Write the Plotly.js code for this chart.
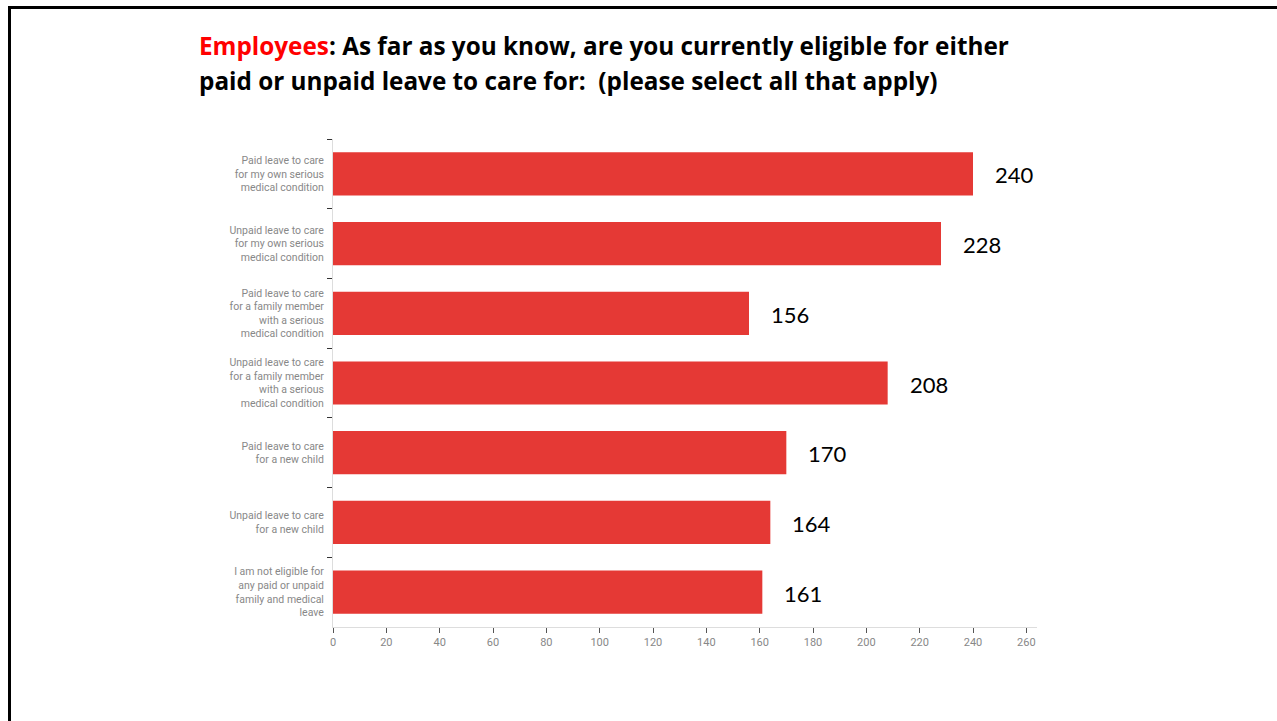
<!DOCTYPE html>
<html>
<head>
<meta charset="utf-8">
<script src="https://cdn.plot.ly/plotly-3.0.1.min.js"></script>
<style>
html,body{margin:0;padding:0;background:#fff;}
#wrap{position:relative;width:1277px;height:721px;overflow:hidden;}
#chart{position:absolute;left:0;top:0;width:1277px;height:721px;}
#bl{position:absolute;left:8px;top:6px;width:3px;height:715px;background:#000;}
#bt{position:absolute;left:8px;top:6px;width:1269px;height:3px;background:#000;}
</style>
</head>
<body>
<div id="wrap">
<div id="chart"></div>
<div id="bl"></div>
<div id="bt"></div>
</div>
<script>
const categories = [
  "Paid leave to care<br>for my own serious<br>medical condition",
  "Unpaid leave to care<br>for my own serious<br>medical condition",
  "Paid leave to care<br>for a family member<br>with a serious<br>medical condition",
  "Unpaid leave to care<br>for a family member<br>with a serious<br>medical condition",
  "Paid leave to care<br>for a new child",
  "Unpaid leave to care<br>for a new child",
  "I am not eligible for<br>any paid or unpaid<br>family and medical<br>leave"
];
const counts = [240, 228, 156, 208, 170, 164, 161];
const xTicks = [0, 20, 40, 60, 80, 100, 120, 140, 160, 180, 200, 220, 240, 260];
const titleLines = [
  "<span style='color:#ff0000'>Employees</span>: As far as you know, are you currently eligible for either",
  "paid or unpaid leave to care for:  (please select all that apply)"
];

const trace = {
  type: 'bar',
  orientation: 'h',
  x: counts,
  y: categories,
  marker: {color: '#e53935'},
  hoverinfo: 'none'
};

const M = {l: 333, r: 240, t: 139, b: 94};
const plotW = 1277 - M.l - M.r, plotH = 721 - M.t - M.b;
const titleFont = {family: '"Open Sans", Lato, sans-serif', size: 24.3, color: '#000', weight: 'bold'};
const titleY = [46, 81];

const annotations = counts.map((v, i) => ({
  x: v, y: categories[i], xref: 'x', yref: 'y',
  text: String(v), showarrow: false,
  xanchor: 'left', yanchor: 'middle', xshift: 20, yshift: -1,
  font: {family: 'Lato, "Open Sans", sans-serif', size: 22, color: '#000'}
})).concat(titleLines.map((t, i) => ({
  xref: 'paper', yref: 'paper',
  x: (200 - M.l) / plotW, y: (M.t + plotH - titleY[i]) / plotH,
  xanchor: 'left', yanchor: 'middle', align: 'left', xshift: -3,
  text: t, showarrow: false, font: titleFont
})));

const layout = {
  width: 1277, height: 721,
  margin: M,
  paper_bgcolor: '#fff', plot_bgcolor: '#fff',
  showlegend: false,
  bargap: 0.38,
  xaxis: {
    range: [0, 264],
    tickvals: xTicks,
    ticktext: xTicks.map(String),
    showgrid: false, zeroline: false,
    showline: true, linecolor: '#dddddd', linewidth: 1,
    ticks: 'outside', ticklen: 5, tickcolor: '#555', tickwidth: 1,
    tickfont: {family: '"Liberation Sans Narrow", Roboto, sans-serif', size: 11, color: '#888'},
    fixedrange: true
  },
  yaxis: {
    type: 'category',
    autorange: 'reversed',
    tickson: 'boundaries',
    showgrid: false, zeroline: false,
    showline: true, linecolor: '#dddddd', linewidth: 1,
    ticks: 'outside', ticklen: 5, tickcolor: '#333', tickwidth: 1,
    ticklabelstandoff: 6,
    tickfont: {family: '"Liberation Sans Narrow", Roboto, sans-serif', size: 10.5, color: '#888'},
    fixedrange: true
  },
  annotations: annotations
};

Plotly.newPlot('chart', [trace], layout, {displayModeBar: false, staticPlot: true});
</script>
</body>
</html>
